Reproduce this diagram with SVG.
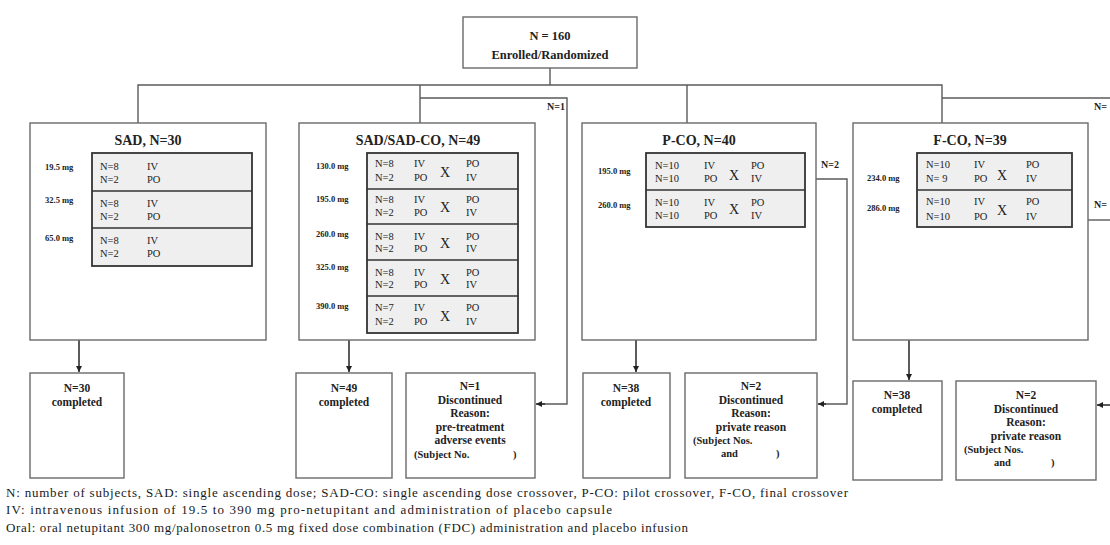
<svg xmlns="http://www.w3.org/2000/svg" width="1110" height="545" viewBox="0 0 1110 545" font-family="'Liberation Serif', 'Times New Roman', serif">
  <defs>
    <marker id="arr" viewBox="0 0 10 10" refX="10" refY="5" markerWidth="6" markerHeight="6" orient="auto-start-reverse" markerUnits="userSpaceOnUse">
      <path d="M0,0 L10,5 L0,10 z" fill="#222"/>
    </marker>
    <style>
      .box { fill: #fff; stroke: #6a6a6a; stroke-width: 1.4; }
      .tbl { fill: #efefef; stroke: #333; stroke-width: 1.8; }
      .div { stroke: #333; stroke-width: 1.6; }
      .ln { fill: none; stroke: #5a5a5a; stroke-width: 1.4; }
      .ar { fill: none; stroke: #333; stroke-width: 1.6; marker-end: url(#arr); }
      text { font-family: "Liberation Serif", "Times New Roman", serif; fill: #222; }
      .hd { font-size: 12.5px; font-weight: bold; }
      .ti { font-size: 14px; font-weight: bold; }
      .dose { font-size: 8.5px; font-weight: bold; }
      .cell { font-size: 10.5px; }
      .x { font-size: 14px; }
      .lb { font-size: 10px; font-weight: bold; }
      .bt { font-size: 11.5px; font-weight: bold; text-anchor: middle; }
      .bs { font-size: 10.5px; font-weight: bold; }
      .lg { font-size: 13px; fill: #1a1a1a; }
      .mid { text-anchor: middle; }
    </style>
  </defs>

  <!-- connectors -->
  <g id="connectors">
    <path class="ln" d="M550,68 V85"/>
    <path class="ln" d="M138,123 V85 H942 V123"/>
    <path class="ln" d="M420,85 V123"/>
    <path class="ln" d="M687,85 V123"/>
    <path class="ln" d="M942,98 H1110"/>
    <path class="ln" d="M420,98 H567 V404 H540"/>
    <path class="ar" d="M545,404 H536"/>
    <path class="ln" d="M816,179 H847 V404 H822"/>
    <path class="ar" d="M826,404 H818"/>
    <path class="ln" d="M1088,220 H1110"/>
    <path class="ar" d="M1110,405 H1097"/>
    <path class="ar" d="M79,340 V372"/>
    <path class="ar" d="M349,340 V372"/>
    <path class="ar" d="M636,340 V372"/>
    <path class="ar" d="M909,340 V380"/>
    <text class="lb" x="565" y="110" text-anchor="end">N=1</text>
    <text class="lb" x="821" y="168">N=2</text>
    <text class="lb" x="1094" y="110">N=</text>
    <text class="lb" x="1094" y="208">N=</text>
  </g>

  <!-- enrolled -->
  <g id="enrolled">
    <rect class="box" x="463" y="17" width="174" height="51"/>
    <text class="hd mid" x="550" y="40">N = 160</text>
    <text class="hd mid" x="550" y="59">Enrolled/Randomized</text>
  </g>

  <!-- SAD arm -->
  <g id="sad">
    <rect class="box" x="30" y="123" width="236" height="217"/>
    <text class="ti mid" x="148" y="145">SAD, N=30</text>
    <rect class="tbl" x="92" y="153" width="160" height="113"/>
    <line class="div" x1="92" y1="191" x2="252" y2="191"/>
    <line class="div" x1="92" y1="228" x2="252" y2="228"/>
    <text class="dose" x="45" y="170">19.5 mg</text>
    <text class="dose" x="45" y="203">32.5 mg</text>
    <text class="dose" x="45" y="241">65.0 mg</text>
    <text x="100" y="170" class="cell">N=8</text><text x="147" y="170" class="cell">IV</text>
    <text x="100" y="183" class="cell">N=2</text><text x="147" y="183" class="cell">PO</text>
    <text x="100" y="207" class="cell">N=8</text><text x="147" y="207" class="cell">IV</text>
    <text x="100" y="220" class="cell">N=2</text><text x="147" y="220" class="cell">PO</text>
    <text x="100" y="244" class="cell">N=8</text><text x="147" y="244" class="cell">IV</text>
    <text x="100" y="257" class="cell">N=2</text><text x="147" y="257" class="cell">PO</text>
  </g>

  <!-- SAD/SAD-CO arm -->
  <g id="sad-co">
    <rect class="box" x="299" y="123" width="236" height="217"/>
    <text class="ti mid" x="418" y="145">SAD/SAD-CO, N=49</text>
    <rect class="tbl" x="367" y="153" width="151" height="180"/>
    <line class="div" x1="367" y1="189" x2="518" y2="189"/>
    <line class="div" x1="367" y1="224" x2="518" y2="224"/>
    <line class="div" x1="367" y1="260" x2="518" y2="260"/>
    <line class="div" x1="367" y1="296" x2="518" y2="296"/>
    <text class="dose" x="316" y="169">130.0 mg</text>
    <text class="dose" x="316" y="202">195.0 mg</text>
    <text class="dose" x="316" y="237">260.0 mg</text>
    <text class="dose" x="316" y="270">325.0 mg</text>
    <text class="dose" x="316" y="309">390.0 mg</text>
    <text class="cell" x="375" y="167">N=8</text><text class="cell" x="414" y="167">IV</text><text class="cell" x="466" y="167">PO</text>
    <text class="cell" x="375" y="181">N=2</text><text class="cell" x="414" y="181">PO</text><text class="cell" x="466" y="181">IV</text>
    <text class="x mid" x="445" y="177">X</text>
    <text class="cell" x="375" y="203">N=8</text><text class="cell" x="414" y="203">IV</text><text class="cell" x="466" y="203">PO</text>
    <text class="cell" x="375" y="216">N=2</text><text class="cell" x="414" y="216">PO</text><text class="cell" x="466" y="216">IV</text>
    <text class="x mid" x="445" y="212">X</text>
    <text class="cell" x="375" y="240">N=8</text><text class="cell" x="414" y="240">IV</text><text class="cell" x="466" y="240">PO</text>
    <text class="cell" x="375" y="252">N=2</text><text class="cell" x="414" y="252">PO</text><text class="cell" x="466" y="252">IV</text>
    <text class="x mid" x="445" y="248">X</text>
    <text class="cell" x="375" y="276">N=8</text><text class="cell" x="414" y="276">IV</text><text class="cell" x="466" y="276">PO</text>
    <text class="cell" x="375" y="288">N=2</text><text class="cell" x="414" y="288">PO</text><text class="cell" x="466" y="288">IV</text>
    <text class="x mid" x="445" y="284">X</text>
    <text class="cell" x="375" y="311">N=7</text><text class="cell" x="414" y="311">IV</text><text class="cell" x="466" y="311">PO</text>
    <text class="cell" x="375" y="325">N=2</text><text class="cell" x="414" y="325">PO</text><text class="cell" x="466" y="325">IV</text>
    <text class="x mid" x="445" y="321">X</text>
  </g>

  <!-- P-CO arm -->
  <g id="p-co">
    <rect class="box" x="582" y="123" width="234" height="217"/>
    <text class="ti mid" x="699" y="145">P-CO, N=40</text>
    <rect class="tbl" x="646" y="153" width="159" height="74"/>
    <line class="div" x1="646" y1="190" x2="805" y2="190"/>
    <text class="dose" x="598" y="174">195.0 mg</text>
    <text class="dose" x="598" y="208">260.0 mg</text>
    <text class="cell" x="655" y="169">N=10</text><text class="cell" x="704" y="169">IV</text><text class="cell" x="751" y="169">PO</text>
    <text class="cell" x="655" y="182">N=10</text><text class="cell" x="704" y="182">PO</text><text class="cell" x="751" y="182">IV</text>
    <text class="x mid" x="734" y="180">X</text>
    <text class="cell" x="655" y="206">N=10</text><text class="cell" x="704" y="206">IV</text><text class="cell" x="751" y="206">PO</text>
    <text class="cell" x="655" y="219">N=10</text><text class="cell" x="704" y="219">PO</text><text class="cell" x="751" y="219">IV</text>
    <text class="x mid" x="734" y="214">X</text>
  </g>

  <!-- F-CO arm -->
  <g id="f-co">
    <rect class="box" x="853" y="123" width="235" height="217"/>
    <text class="ti mid" x="970" y="145">F-CO, N=39</text>
    <rect class="tbl" x="917" y="153" width="155" height="74"/>
    <line class="div" x1="917" y1="190" x2="1072" y2="190"/>
    <text class="dose" x="867" y="181">234.0 mg</text>
    <text class="dose" x="867" y="211">286.0 mg</text>
    <text class="cell" x="926" y="168">N=10</text><text class="cell" x="974" y="168">IV</text><text class="cell" x="1026" y="168">PO</text>
    <text class="cell" x="926" y="182">N= 9</text><text class="cell" x="974" y="182">PO</text><text class="cell" x="1026" y="182">IV</text>
    <text class="x mid" x="1002" y="180">X</text>
    <text class="cell" x="926" y="205">N=10</text><text class="cell" x="974" y="205">IV</text><text class="cell" x="1026" y="205">PO</text>
    <text class="cell" x="926" y="220">N=10</text><text class="cell" x="974" y="220">PO</text><text class="cell" x="1026" y="220">IV</text>
    <text class="x mid" x="1002" y="215">X</text>
  </g>

  <!-- outcome boxes -->
  <g id="sad-completed">
    <rect class="box" x="30" y="373" width="94" height="105"/>
    <text class="bt" x="77" y="392">N=30</text>
    <text class="bt" x="77" y="406">completed</text>
  </g>
  <g id="sadco-completed">
    <rect class="box" x="296" y="373" width="96" height="105"/>
    <text class="bt" x="344" y="392">N=49</text>
    <text class="bt" x="344" y="406">completed</text>
  </g>
  <g id="sadco-discontinued">
    <rect class="box" x="406" y="373" width="129" height="105"/>
    <text class="bt" x="470" y="390">N=1</text>
    <text class="bt" x="470" y="404">Discontinued</text>
    <text class="bt" x="470" y="417">Reason:</text>
    <text class="bt" x="470" y="431">pre-treatment</text>
    <text class="bt" x="470" y="444">adverse events</text>
    <text class="bs" x="414" y="458">(Subject No.</text>
    <text class="bs" x="513" y="458">)</text>
  </g>
  <g id="pco-completed">
    <rect class="box" x="583" y="373" width="87" height="105"/>
    <text class="bt" x="626" y="392">N=38</text>
    <text class="bt" x="626" y="406">completed</text>
  </g>
  <g id="pco-discontinued">
    <rect class="box" x="685" y="373" width="132" height="105"/>
    <text class="bt" x="751" y="390">N=2</text>
    <text class="bt" x="751" y="404">Discontinued</text>
    <text class="bt" x="751" y="417">Reason:</text>
    <text class="bt" x="751" y="431">private reason</text>
    <text class="bs" x="693" y="444">(Subject Nos.</text>
    <text class="bs" x="721" y="457">and</text>
    <text class="bs" x="776" y="457">)</text>
  </g>
  <g id="fco-completed">
    <rect class="box" x="853" y="381" width="89" height="99"/>
    <text class="bt" x="897" y="399">N=38</text>
    <text class="bt" x="897" y="413">completed</text>
  </g>
  <g id="fco-discontinued">
    <rect class="box" x="956" y="381" width="140" height="99"/>
    <text class="bt" x="1026" y="399">N=2</text>
    <text class="bt" x="1026" y="413">Discontinued</text>
    <text class="bt" x="1026" y="426">Reason:</text>
    <text class="bt" x="1026" y="440">private reason</text>
    <text class="bs" x="964" y="453">(Subject Nos.</text>
    <text class="bs" x="994" y="466">and</text>
    <text class="bs" x="1051" y="466">)</text>
  </g>

  <!-- legend -->
  <g id="legend">
    <text class="lg" x="6" y="497" textLength="842" lengthAdjust="spacing">N: number of subjects, SAD: single ascending dose; SAD-CO: single ascending dose crossover, P-CO: pilot crossover, F-CO, final crossover</text>
    <text class="lg" x="6" y="514" textLength="606" lengthAdjust="spacing">IV: intravenous infusion of 19.5 to 390 mg pro-netupitant and administration of placebo capsule</text>
    <text class="lg" x="6" y="532" textLength="682" lengthAdjust="spacing">Oral: oral netupitant 300 mg/palonosetron 0.5 mg fixed dose combination (FDC) administration and placebo infusion</text>
  </g>
</svg>
